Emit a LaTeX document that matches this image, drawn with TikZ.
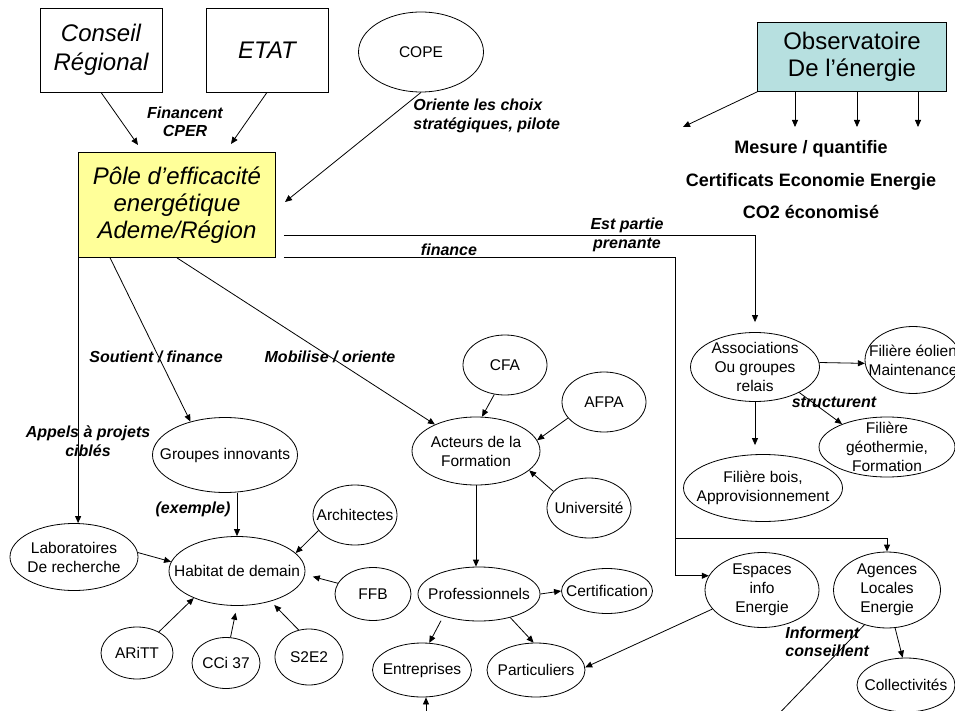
\documentclass[tikz,border=0pt]{standalone}
\usepackage{fontspec}
\setmainfont{Liberation Sans}
\usetikzlibrary{shapes.geometric, arrows.meta, calc}
\definecolor{poleyellow}{RGB}{255,255,153}
\definecolor{obsteal}{RGB}{183,224,224}

\begin{document}
\begin{tikzpicture}[x=1pt, y=-1pt, line width=0.8pt,
    box/.style={rectangle, draw, align=center, font=\fontsize{24}{29}\selectfont\itshape},
    bubble/.style={ellipse, draw, inner sep=0pt, label={[txt]center:#1}},
    txt/.style={align=center, inner sep=0pt, font=\fontsize{15.5}{19}\selectfont},
    sz/.style 2 args={minimum width=#1, minimum height=#2},
    lbl/.style={align=center, inner sep=0pt, font=\fontsize{16}{18.5}\selectfont\bfseries\itshape},
    flow/.style={-{Triangle[length=7pt,width=6pt]}}
  ]
  \useasboundingbox (0,0) rectangle (955,711);
  \clip (0,0) rectangle (955,711);

  % top row
  \node[box, sz={122}{84}] (conseil) at (101,50) {Conseil\\Régional};
  \node[box, sz={122}{84}] (etat) at (267,50) {ETAT};
  \node[bubble=COPE, sz={125}{80}] (cope) at (421,52) {};
  \node[box, sz={189}{69}, fill=obsteal, font=\fontsize{24}{27}\selectfont] (obs) at (852,57) {Observatoire\\De l’énergie};
  \node[box, sz={197}{105}, fill=poleyellow, font=\fontsize{24}{27}\selectfont\itshape] (pole) at (177,205) {Pôle d’efficacité\\ energétique\\Ademe/Région};

  % ellipses
  \node[bubble={Groupes innovants}, sz={145}{75}] (groupes) at (225,455) {};
  \node[bubble={Acteurs de la\\Formation}, sz={128}{68}] (acteurs) at (476,451) {};
  \node[bubble={Laboratoires\\De recherche}, sz={128}{67}] (labo) at (74,557) {};
  \node[bubble={Habitat de demain}, sz={136}{69}] (habitat) at (237,571) {};
  \node[bubble=Architectes, sz={84}{60}] (archi) at (355,515) {};
  \node[bubble=FFB, sz={76}{53}] (ffb) at (373,594) {};
  \node[bubble=ARiTT, sz={72}{52}] (aritt) at (137,653) {};
  \node[bubble={CCi 37}, sz={68}{51}] (cci) at (226,663) {};
  \node[bubble=S2E2, sz={68}{56}] (s2e2) at (309,657) {};
  \node[bubble=CFA, sz={84}{60}] (cfa) at (505,365) {};
  \node[bubble=AFPA, sz={84}{60}] (afpa) at (604,402) {};
  \node[bubble=Université, sz={84}{60}] (univ) at (589,508) {};
  \node[bubble=Professionnels, sz={122}{54}] (prof) at (479,594) {};
  \node[bubble=Certification, sz={91}{45}] (cert) at (607,591) {};
  \node[bubble=Entreprises, sz={99}{54}] (entr) at (422,670) {};
  \node[bubble=Particuliers, sz={98}{54}] (partic) at (536,670) {};
  \node[bubble={Espaces\\info\\Energie}, sz={114}{75}] (espaces) at (762,590) {};
  \node[bubble={Agences\\Locales\\Energie}, sz={107}{76}] (agences) at (887,590) {};
  \node[bubble=Collectivités, sz={98}{54}] (collect) at (906,685) {};
  \node[bubble={Associations\\Ou groupes\\relais}, sz={129}{69}] (assoc) at (755,367) {};
  \node[bubble={Filière éolien\\Maintenance}, sz={96}{67}] (eolien) at (913,360) {};
  \node[bubble={Filière\\géothermie,\\Formation}, sz={136}{60}] (geo) at (887,447) {};
  \node[bubble={Filière bois,\\Approvisionnement}, sz={159}{67}] (bois) at (763,488) {};

  % financing of the pole
  \coordinate (finTip) at (138,145);
  \coordinate (etatTip) at (231,144);
  \coordinate (copeTip) at (285,202);
  \draw[flow] (conseil.south) -- (finTip);
  \draw[flow] (etat.south) -- (etatTip);
  \draw[flow] (cope.south) -- (copeTip);
  \node[lbl] (finlbl) at (185,122) {Financent\\CPER};
  \node[lbl, align=left, anchor=west] (copelbl) at (413,116) {Oriente les choix\\stratégiques, pilote};

  % observatoire
  \coordinate (obsTip) at (683,127);
  \draw[flow] (obs.south west) -- (obsTip);
  \foreach \xx in {795,857,918}
    \draw[flow] (obs.south -| \xx,0) -- (\xx,127);
  \node[align=center, inner sep=0pt, font=\fontsize{18}{32.5}\selectfont\bfseries] (mesure) at (811,180) {Mesure / quantifie\\Certificats Economie Energie\\CO2 économisé};

  % lines to the right
  \coordinate (pStart1) at ($(pole.east)+(8,30)$);
  \coordinate (pStart2) at ($(pole.south east)+(8,0)$);
  \coordinate (fork) at (675,538);
  \draw[flow, shorten >=10pt] (pStart1) -| (assoc.north);
  \node[lbl] (partlbl) at (627,235) {Est partie\\prenante};
  \draw (pStart2) -| (fork);
  \draw[flow] (fork) |- (espaces.165);
  \draw[flow] (fork) -| (agences.north);
  \node[lbl, anchor=base] (finalbl) at (449,255) {finance};

  % lines down from the pole
  \draw[flow] (pole.south west) -- (pole.south west |- labo.north);
  \node[lbl] (appellbl) at (88,441) {Appels à projets\\ciblés};
  \draw[flow] ($(pole.south west)+(32,0)$) -- (groupes.136);
  \node[lbl] (soutlbl) at (156,357) {Soutient / finance};
  \draw[flow] (pole.south) -- (acteurs);
  \node[lbl] (moblbl) at (330,357) {Mobilise / oriente};

  % habitat de demain
  \draw[flow] (habitat.north |- groupes.south) -- (habitat.north);
  \node[lbl] (exlbl) at (193,509) {(exemple)};
  \draw[flow] (labo.4) -- (habitat.172);
  \draw[flow] (archi.203) -- (habitat.17);
  \draw[flow, shorten >=8pt] (ffb.163) -- (habitat.357);
  \draw[flow] (aritt.44) -- (habitat.212);
  \draw[flow, shorten >=7pt] (cci.80) -- (habitat.south);
  \draw[flow, shorten >=5pt] (s2e2.111) -- (habitat.318);

  % formation
  \draw[flow] (cfa.250) -- (acteurs.80);
  \draw[flow] (afpa.204) -- (acteurs.10);
  \draw[flow] (univ.155) -- (acteurs.340);
  \draw[flow] (acteurs.south) -- (acteurs.south |- prof.north);
  \draw[flow] (prof.east) -- (cert.west);
  \draw[flow, shorten <=5pt] (prof.212) -- (entr.75);
  \draw[flow] (prof.323) -- (partic.95);
  \coordinate (entrIn) at (426,720);
  \draw[flow] (entrIn) -- (entrIn |- entr.south);

  % espaces et agences
  \draw[flow] (espaces.201) -- (partic.3);
  \draw[flow] (agences.282) -- (collect.97);
  \coordinate (infoOut) at (770,723);
  \draw (agences.237) -- (infoOut);
  \node[lbl, align=left, anchor=west] (inflbl) at (785,642) {Informent\\conseillent};

  % associations
  \draw[flow] (assoc.4) -- (eolien.184);
  \draw[flow] (assoc.330) -- (geo.153);
  \draw[flow, shorten >=9pt] (assoc.south) -- (assoc.south |- bois.north);
  \node[lbl] (structlbl) at (834,402) {structurent};
\end{tikzpicture}
\end{document}
